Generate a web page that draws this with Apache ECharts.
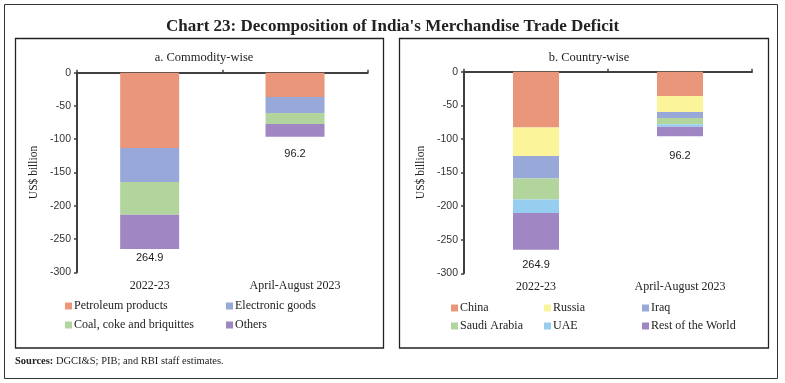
<!DOCTYPE html>
<html><head><meta charset="utf-8">
<script src="https://cdn.jsdelivr.net/npm/echarts@6/dist/echarts.min.js"></script>
<style>html,body{margin:0;padding:0;background:#fff}#c{width:785px;height:383px}</style>
</head><body><div id="c"></div>
<script>
// ---- data ----
const categories = ['2022-23', 'April-August 2023'];
const totals = [264.9, 96.2];
// a. Commodity-wise (US$ billion, negative = deficit)
const petroleum = [-113.0, -36.5];
const electronic = [-51.4, -24.1];
const coal = [-49.2, -16.5];
const others = [-51.3, -19.1];
// b. Country-wise
const china = [-83.0, -36.2];
const russia = [-42.6, -23.8];
const iraq = [-33.2, -8.9];
const saudi = [-31.2, -9.4];
const uae = [-20.4, -3.5];
const restWorld = [-54.5, -14.4];
const yTicks = [0, -50, -100, -150, -200, -250, -300];

const serif = "'Liberation Serif', 'DejaVu Serif', serif";
const sans = "'Liberation Sans', 'DejaVu Sans', sans-serif";
const C = {orange:'#E9967A', blue:'#98A9D9', green:'#B2D59E', purple:'#A086C2', yellow:'#FBF49A', lblue:'#97CEF0'};

const chart = echarts.init(document.getElementById('c'), null, {renderer:'canvas'});

function yAxisDef(gi){
  return {gridIndex:gi, type:'value', min:-300, max:0, interval:50,
    name:'US$ billion', nameLocation:'middle', nameGap:37, nameRotate:90,
    nameTextStyle:{fontFamily:serif, fontSize:11.5, color:'#222'},
    axisLine:{show:true, lineStyle:{color:'#404040', width:2}},
    axisTick:{show:true, length:3, lineStyle:{color:'#404040', width:1.5}},
    axisLabel:{fontFamily:sans, fontSize:10.5, color:'#333', margin:6},
    splitLine:{show:false}};
}
function xTopDef(gi){
  return {gridIndex:gi, type:'category', data:categories, position:'top',
    axisLine:{show:true, onZero:false, lineStyle:{color:'#404040', width:2}},
    axisTick:{show:true, length:3, lineStyle:{color:'#404040', width:1.5}},
    axisLabel:{show:false}, splitLine:{show:false}};
}
function xBotDef(gi){
  return {gridIndex:gi, type:'category', data:categories, position:'bottom',
    axisLine:{show:false}, axisTick:{show:false},
    axisLabel:{fontFamily:serif, fontSize:12, color:'#222', margin:8},
    splitLine:{show:false}};
}

function makeSeries(name, data, color, gi, stack, barWidth, labelDist){
  const s = {name, type:'bar', xAxisIndex:gi*2, yAxisIndex:gi, stack, data:data.slice(),
    barWidth, itemStyle:{color}, emphasis:{disabled:true}};
  if (labelDist){
    s.data = data.map((v,i)=>({value:v, label:{show:true, position:'bottom', distance:labelDist[i],
      formatter:()=>totals[i].toFixed(1), fontFamily:sans, fontSize:11, color:'#222'}}));
  }
  return s;
}

const series = [
  makeSeries('Petroleum products', petroleum, C.orange, 0, 'a', 59),
  makeSeries('Electronic goods', electronic, C.blue, 0, 'a', 59),
  makeSeries('Coal, coke and briquittes', coal, C.green, 0, 'a', 59),
  makeSeries('Others', others, C.purple, 0, 'a', 59, [4, 12]),
  makeSeries('China', china, C.orange, 1, 'b', 46),
  makeSeries('Russia', russia, C.yellow, 1, 'b', 46),
  makeSeries('Iraq', iraq, C.blue, 1, 'b', 46),
  makeSeries('Saudi Arabia', saudi, C.green, 1, 'b', 46),
  makeSeries('UAE', uae, C.lblue, 1, 'b', 46),
  makeSeries('Rest of the World', restWorld, C.purple, 1, 'b', 46, [10, 14]),
];

// legend layout (positions only)
const legendPos = [
  ['Petroleum products', 65, 300], ['Electronic goods', 226, 300],
  ['Coal, coke and briquittes', 65, 319], ['Others', 226, 319],
  ['China', 451, 302], ['Russia', 544, 302], ['Iraq', 642, 302],
  ['Saudi Arabia', 451, 320], ['UAE', 544, 320], ['Rest of the World', 642, 320],
];
const legends = legendPos.map(([n,x,y])=>({data:[n], left:x, top:y, itemWidth:7, itemHeight:7,
  icon:'rect', padding:0, selectedMode:false, itemGap:0,
  textStyle:{fontFamily:serif, fontSize:12, color:'#222', padding:[0,0,0,-3]}}));

chart.setOption({
  animation:false,
  backgroundColor:'#fff',
  title:[
    {text:"Chart 23: Decomposition of India's Merchandise Trade Deficit", left:'center', top:13,
     textStyle:{fontFamily:serif, fontSize:17, fontWeight:'bold', color:'#222'}},
    {text:'a. Commodity-wise', left:199, top:46, textAlign:'center',
     textStyle:{fontFamily:serif, fontSize:12.5, fontWeight:'normal', color:'#222'}},
    {text:'b. Country-wise', left:584, top:46, textAlign:'center',
     textStyle:{fontFamily:serif, fontSize:12.5, fontWeight:'normal', color:'#222'}},
  ],
  legend:legends,
  grid:[
    {left:77, top:72.7, width:290.7, height:199.6},
    {left:464, top:71.7, width:288, height:201.6},
  ],
  xAxis:[xTopDef(0), xBotDef(0), xTopDef(1), xBotDef(1)],
  yAxis:[yAxisDef(0), yAxisDef(1)],
  series,
  graphic:[
    {type:'rect', shape:{x:4.5, y:4.5, width:773, height:374}, style:{fill:'none', stroke:'#333', lineWidth:1}, z:-1},
    {type:'rect', shape:{x:15.5, y:38.5, width:368, height:309.5}, style:{fill:'none', stroke:'#222', lineWidth:1.3}, z:-1},
    {type:'rect', shape:{x:399.5, y:38.5, width:369, height:309.5}, style:{fill:'none', stroke:'#222', lineWidth:1.3}, z:-1},
    {type:'text', left:15, top:356, style:{text:'{b|Sources:} DGCI&S; PIB; and RBI staff estimates.',
      rich:{b:{fontFamily:serif, fontSize:10.5, fontWeight:'bold', fill:'#222'}},
      font:"10.5px 'Liberation Serif', serif", fill:'#222'}},
  ]
});
</script></body></html>
